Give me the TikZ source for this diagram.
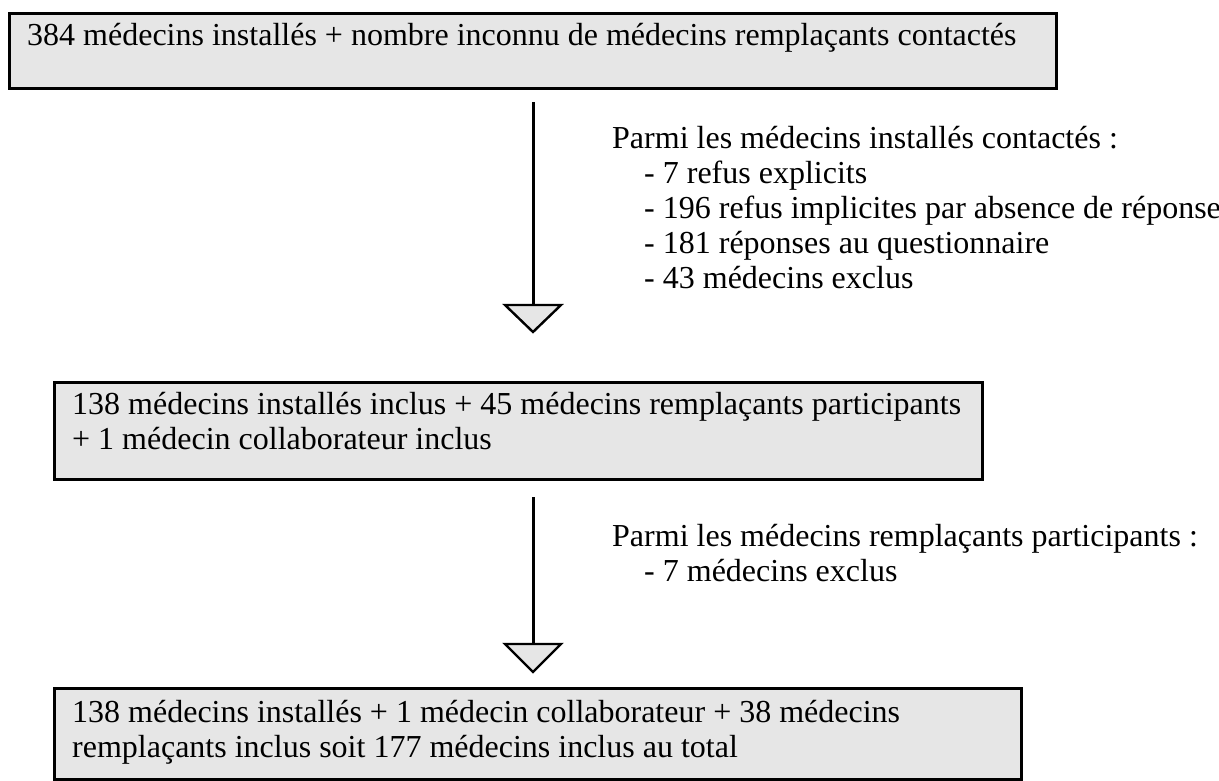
\documentclass[tikz,border=0pt]{standalone}
\usepackage{fontspec}
\setmainfont{Liberation Serif}
\definecolor{boxgray}{HTML}{E6E6E6}
\begin{document}
\begin{tikzpicture}[x=1pt,y=-1pt,
  box/.style={draw=black, line width=2.6pt, fill=boxgray, anchor=north west, inner sep=0pt},
  txt/.style={font=\fontsize{32}{35}\selectfont, align=left, anchor=north west, inner sep=0pt},
  flow/.style={line width=3pt},
  head/.style={draw=black, line width=2.4pt, fill=boxgray, line join=miter}]
\useasboundingbox (0,0) rectangle (1219,780);
% boxes
\node[box, minimum width=1047pt, minimum height=75pt] (b1) at (8,12) {};
\node[box, minimum width=928pt, minimum height=97pt] (b2) at (53,381) {};
\node[box, minimum width=967pt, minimum height=91pt] (b3) at (53,687) {};
% texts (strut height 0.7*35 = 24.5)
\node[txt] (t1) at (27,21) {\strut 384 médecins installés + nombre inconnu de médecins remplaçants contactés};
\node[txt] (t2) at (72,390) {\strut 138 médecins installés inclus + 45 médecins remplaçants participants\\+ 1 médecin collaborateur inclus};
\node[txt] (t3) at (72,698) {\strut 138 médecins installés + 1 médecin collaborateur + 38 médecins\\remplaçants inclus soit 177 médecins inclus au total};
\node[txt] (n1) at (612,124) {\strut Parmi les médecins installés contactés :\\
\hspace*{32pt}- 7 refus explicits\\
\hspace*{32pt}- 196 refus implicites par absence de réponse\\
\hspace*{32pt}- 181 réponses au questionnaire\\
\hspace*{32pt}- 43 médecins exclus};
\node[txt] (n2) at (612,522) {\strut Parmi les médecins remplaçants participants :\\
\hspace*{32pt}- 7 médecins exclus};
% arrows
\coordinate (a1s) at (533,102);
\coordinate (a1e) at (533,305);
\coordinate (a1l) at (505,305);
\coordinate (a1r) at (561,305);
\coordinate (a1p) at (533,332);
\coordinate (a2s) at (533,497);
\coordinate (a2e) at (533,644);
\coordinate (a2l) at (505,644);
\coordinate (a2r) at (561,644);
\coordinate (a2p) at (533,672);
\draw[flow] (a1s) -- (a1e);
\draw[head] (a1l) -- (a1r) -- (a1p) -- cycle;
\draw[flow] (a2s) -- (a2e);
\draw[head] (a2l) -- (a2r) -- (a2p) -- cycle;
\end{tikzpicture}
\end{document}
